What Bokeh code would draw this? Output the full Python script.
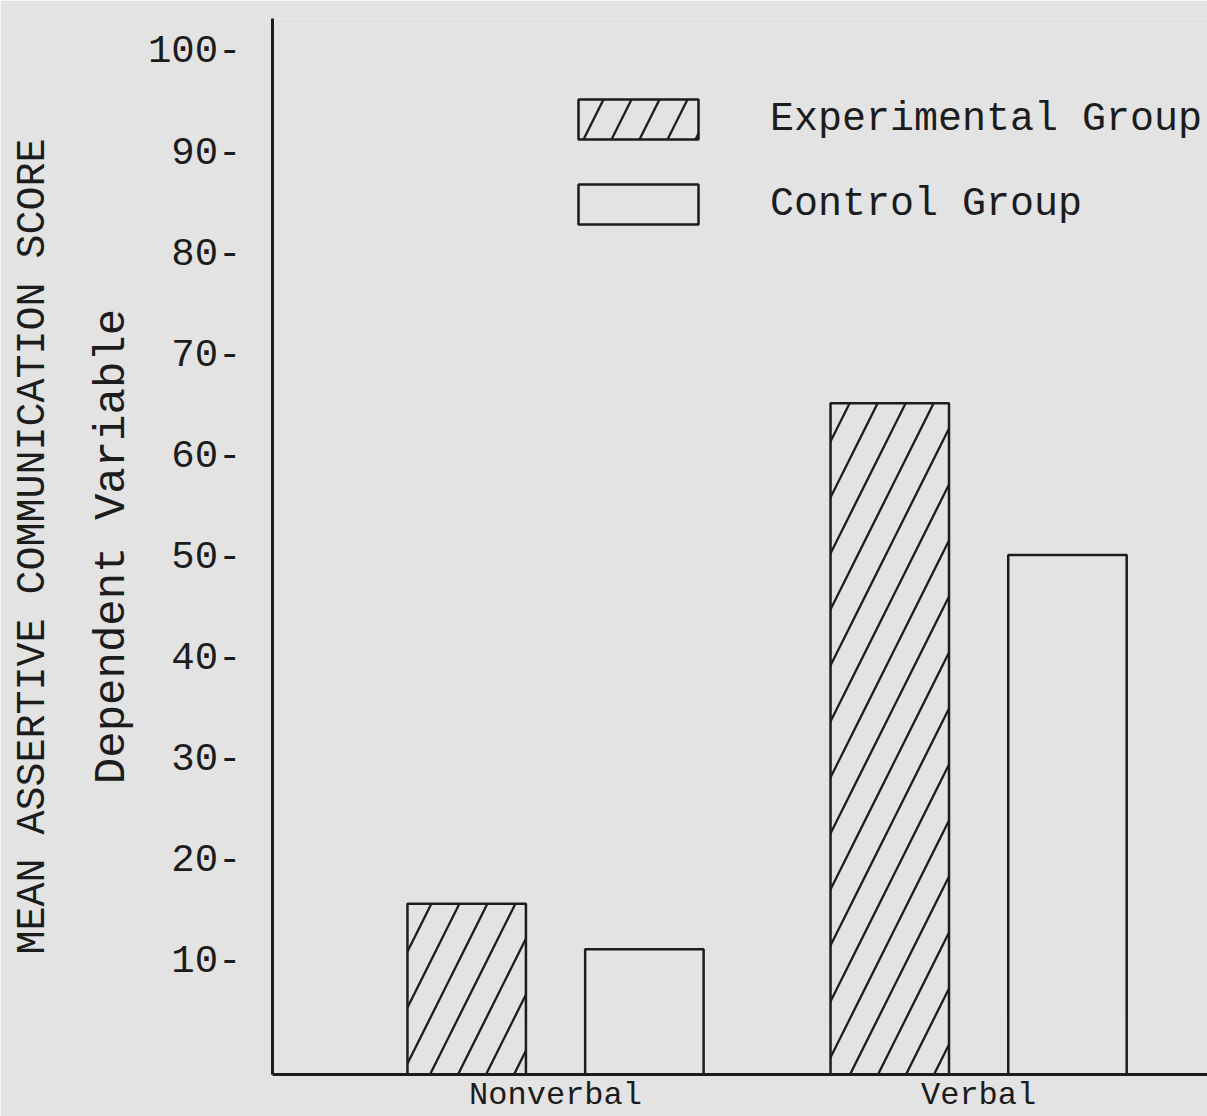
from bokeh.plotting import figure
from bokeh.models import (Range1d, FixedTicker, LinearAxis, Legend, LegendItem,
                          ColumnDataSource)
from bokeh.embed import file_html
from bokeh.resources import INLINE

# ---- data ----
categories = ["Nonverbal", "Verbal"]
groups = ["Experimental Group", "Control Group"]
experimental = [15.5, 65]
control = [11, 50]
y_ticks = [10, 20, 30, 40, 50, 60, 70, 80, 90, 100]
y_tick_labels = [f"{t}-" for t in y_ticks]

FONT = "Liberation Mono"
INK = "#1c1c1c"
BG = "#e3e3e3"

Y0, Y1 = -1.38, 103.06
p = figure(width=1207, height=1116, output_backend="svg", toolbar_location=None,
           x_range=Range1d(-0.169, 2.041), y_range=Range1d(Y0, Y1),
           min_border_left=272, min_border_right=0, min_border_top=18,
           min_border_bottom=41)
p.background_fill_color = BG
p.border_fill_color = BG
p.outline_line_color = None
p.grid.visible = False

centers = [i + 0.5 for i in range(len(categories))]
off = 0.21
bw = 0.28
src_e = ColumnDataSource(dict(x=[c - off for c in centers], top=experimental,
                              bottom=[Y0] * len(categories)))
src_c = ColumnDataSource(dict(x=[c + off for c in centers], top=control,
                              bottom=[Y0] * len(categories)))

r_e = p.vbar(x="x", top="top", bottom="bottom", width=bw, source=src_e,
             fill_color=BG, line_color=INK, line_width=2.5,
             hatch_pattern="/", hatch_color=INK, hatch_weight=2.3, hatch_scale=56)
r_c = p.vbar(x="x", top="top", bottom="bottom", width=bw, source=src_c,
             fill_color=BG, line_color=INK, line_width=2.5)

# y axis
ya = p.yaxis[0]
ya.ticker = FixedTicker(ticks=y_ticks)
ya.major_label_overrides = {t: l for t, l in zip(y_ticks, y_tick_labels)}
ya.major_tick_out = 0
ya.major_tick_in = 0
ya.minor_tick_out = 0
ya.minor_tick_in = 0
ya.axis_line_width = 3
ya.axis_line_color = INK
ya.major_label_standoff = 31
ya.major_label_text_font = FONT
ya.major_label_text_font_size = "39px"
ya.major_label_text_color = INK
ya.axis_label = "Dependent Variable"
ya.axis_label_text_font = FONT
ya.axis_label_text_font_size = "44px"
ya.axis_label_text_font_style = "normal"
ya.axis_label_text_color = INK
ya.axis_label_standoff = 8

# outer label-only axis for the main title of the y dimension
ya2 = LinearAxis(ticker=FixedTicker(ticks=[]), axis_line_color=None,
                 major_tick_out=0, major_tick_in=0, minor_tick_out=0, minor_tick_in=0,
                 major_label_standoff=0, major_label_text_font_size="0px",
                 axis_label="MEAN ASSERTIVE COMMUNICATION SCORE",
                 axis_label_text_font=FONT, axis_label_text_font_size="40px",
                 axis_label_text_font_style="normal", axis_label_text_color=INK,
                 axis_label_standoff=28)
p.add_layout(ya2, "left")

# x axis: category labels at group centres
xa = p.xaxis[0]
xa.ticker = FixedTicker(ticks=centers)
xa.major_label_overrides = {c: t for c, t in zip(centers, categories)}
xa.major_label_text_font = FONT
xa.major_label_text_font_size = "32px"
xa.major_label_text_color = INK
xa.major_tick_out = 0
xa.major_tick_in = 0
xa.minor_tick_out = 0
xa.minor_tick_in = 0
xa.major_label_standoff = 2
xa.axis_line_width = 3
xa.axis_line_color = INK

legend = Legend(items=[LegendItem(label=groups[0], renderers=[r_e]),
                       LegendItem(label=groups[1], renderers=[r_c])],
                location=(291, 845), orientation="vertical",
                glyph_width=150, glyph_height=50, label_height=50,
                label_standoff=57, spacing=35, padding=0, margin=0,
                label_text_font=FONT, label_text_font_size="40px",
                label_text_color=INK, background_fill_alpha=0,
                border_line_color=None)
p.add_layout(legend)

open("out.html", "w").write(file_html(p, INLINE))
